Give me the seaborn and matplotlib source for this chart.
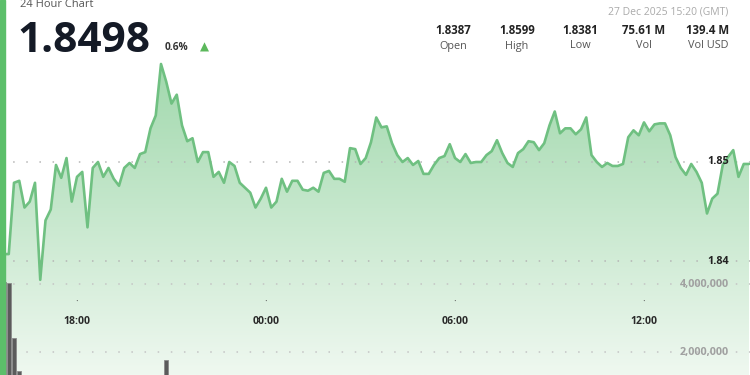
import numpy as np
import pandas as pd
import matplotlib
matplotlib.use("Agg")
import matplotlib.pyplot as plt
import matplotlib.dates as mdates
import seaborn as sns

# ---------------- data ----------------
start_time = "2025-12-26 15:40"
interval = "10min"
prices = [
    1.8407, 1.8407, 1.8479, 1.8481, 1.8454, 1.8460, 1.8479, 1.8381, 1.8441, 1.8452,
    1.8497, 1.8484, 1.8504, 1.8460, 1.8485, 1.8490, 1.8434, 1.8494, 1.8500, 1.8485,
    1.8494, 1.8483, 1.8476, 1.8494, 1.8499, 1.8494, 1.8508, 1.8510, 1.8534, 1.8547,
    1.8599, 1.8581, 1.8559, 1.8568, 1.8537, 1.8521, 1.8524,
    1.8500, 1.8510, 1.8510, 1.8485, 1.8490, 1.8479, 1.8500, 1.8496, 1.8479, 1.8474,
    1.8469, 1.8454, 1.8463, 1.8474, 1.8454, 1.8460, 1.8483, 1.8470, 1.8481, 1.8481,
    1.8472, 1.8471, 1.8474, 1.8470, 1.8489, 1.8491, 1.8483, 1.8483, 1.8480, 1.8514,
    1.8513, 1.8498, 1.8504, 1.8520,
    1.8545, 1.8535, 1.8536, 1.8519, 1.8507, 1.8500, 1.8504, 1.8497, 1.8501, 1.8488,
    1.8488, 1.8497, 1.8504, 1.8506, 1.8518, 1.8504, 1.8500, 1.8508, 1.8499, 1.8500,
    1.8500, 1.8507, 1.8511, 1.8522, 1.8509, 1.8499, 1.8495, 1.8509, 1.8513, 1.8521,
    1.8520, 1.8512, 1.8519, 1.8537, 1.8551,
    1.8529, 1.8534, 1.8534, 1.8528, 1.8533, 1.8545, 1.8507, 1.8500, 1.8495, 1.8499,
    1.8496, 1.8496, 1.8498, 1.8525, 1.8532, 1.8527, 1.8540, 1.8531, 1.8538, 1.8539,
    1.8539, 1.8527, 1.8505, 1.8494, 1.8487, 1.8498, 1.8490, 1.8479, 1.8448, 1.8463,
    1.8468, 1.8497, 1.8505, 1.8512, 1.8485, 1.8498, 1.8498,
]
# visible volume bars (index into the price series, volume in units)
volume_index = [0, 1, 2, 3, 31]
volume_values = [4.05e6, 4.03e6, 2.4e6, 1.45e6, 1.76e6]

price_ticks = [1.84, 1.85]
price_tick_labels = ["1.84", "1.85"]
volume_ticks = [2e6, 4e6]
volume_tick_labels = ["2,000,000", "4,000,000"]
time_ticks = ["2025-12-26 18:00", "2025-12-27 00:00", "2025-12-27 06:00", "2025-12-27 12:00"]
time_tick_labels = ["18:00", "00:00", "06:00", "12:00"]

header_title = "24 Hour Chart"
last_price = "1.8498"
change_pct = "0.6%"
timestamp = "27 Dec 2025 15:20 (GMT)"
stat_values = ["1.8387", "1.8599", "1.8381", "75.61 M", "139.4 M"]
stat_labels = ["Open", "High", "Low", "Vol", "Vol USD"]

# ---------------- styling ----------------
sns.set_style("white")
plt.rcParams["font.family"] = ["Open Sans", "DejaVu Sans"]

W, H = 750, 375
fig = plt.figure(figsize=(W / 100, H / 100), dpi=100)
ax = fig.add_axes([0, 0, 1, 1])

times = pd.date_range(start_time, periods=len(prices), freq=interval)
df = pd.DataFrame({"time": times, "price": prices})

# axis ranges (pixel layout of the reference)
px_per_hour = 31.5
x_left = pd.Timestamp("2025-12-26 18:00") - pd.Timedelta(hours=77 / px_per_hour)
x_right = x_left + pd.Timedelta(hours=W / px_per_hour)
p_per_px = 0.01 / 99
y_top = 1.85 + 162 * p_per_px
y_bot = 1.85 - (H - 162) * p_per_px

# gradient fill under the line
poly = ax.fill_between(df["time"], df["price"], y_bot - 0.01, color="none", lw=0)
top_c = np.array([0xa0, 0xd8, 0xac]) / 255
bot_c = np.array([0xef, 0xf8, 0xf0]) / 255
n = 256
frac = np.linspace(0, 1, n)[:, None]
grad = (top_c[None, :] * (1 - frac) + bot_c[None, :] * frac)[:, None, :]
im = ax.imshow(grad, aspect="auto",
               extent=[mdates.date2num(x_left), mdates.date2num(x_right),
                       y_bot, 1.85 + (162 - 60) * p_per_px],
               origin="upper", zorder=1)
im.set_clip_path(poly.get_paths()[0], transform=ax.transData)
ax.set_xlim(x_left, x_right)
ax.set_ylim(y_bot, y_top)

sns.lineplot(data=df, x="time", y="price", ax=ax, color="#6fc081", lw=1.9, zorder=3)

# dotted price grid lines + labels
for v, lab in zip(price_ticks, price_tick_labels):
    ax.axhline(v, color="#b5b5b5", lw=1.1, ls=(0, (1, 7.6)), zorder=2)
    ax.text(729 / W, v, lab, transform=ax.get_yaxis_transform(), ha="right", va="center",
            fontsize=7.8, fontweight="bold", color="#222222", zorder=5)

ax.set_xlim(x_left, x_right)
ax.set_ylim(y_bot, y_top)
ax.set_xlabel("")
ax.set_ylabel("")
ax.set_xticks([])
ax.set_yticks([])
for s in ax.spines.values():
    s.set_visible(False)

# volume axis
ax2 = ax.twinx()
vpp = 1e6 / 34
ax2.set_ylim(4e6 - (H - 284) * vpp, 4e6 + 284 * vpp)
vol_times = times[volume_index]
ax2.bar(vol_times, volume_values, width=pd.Timedelta(minutes=8.5), color="#5b5b5b",
        edgecolor="#8a8a8a", lw=0.6, zorder=2)
for v, lab in zip(volume_ticks, volume_tick_labels):
    ax2.axhline(v, color="#c4c4c4", lw=1.1, ls=(0, (1, 7.6)), zorder=1)
    ax2.text(729 / W, v, lab, transform=ax2.get_yaxis_transform(), ha="right", va="center",
             fontsize=7.8, fontweight="bold", color="#a0a0a0", zorder=5)
ax2.set_xlim(x_left, x_right)
ax2.set_yticks([])
ax2.set_xticks([])
ax2.set_ylabel("")
for s in ax2.spines.values():
    s.set_visible(False)

# time ticks
for t, lab in zip(time_ticks, time_tick_labels):
    tt = pd.Timestamp(t)
    ax2.text(tt, 1 - 302 / H, "·", transform=ax2.get_xaxis_transform(), ha="center",
             va="center", fontsize=7, color="#555555")
    ax2.text(tt, 1 - 321 / H, lab, transform=ax2.get_xaxis_transform(), ha="center",
             va="center", fontsize=7.6, fontweight="bold", color="#2a2a2a")

# header
def fx(x):
    return x / W

def fy(y):
    return 1 - y / H

fig.text(fx(20), fy(7), header_title, fontsize=8, color="#555555", va="baseline")
fig.text(fx(17), fy(52), last_price, fontsize=30.5, fontweight="bold", color="#141a26", va="baseline")
fig.text(fx(165), fy(47), change_pct, fontsize=7.3, fontweight="bold", color="#333333", va="center")
fig.text(fx(204), fy(47), "▲", fontsize=8.5, color="#5cb85c", va="center", ha="center",
         family=["DejaVu Sans"])
fig.text(fx(728), fy(12), timestamp, fontsize=7.5, color="#aaaaaa", va="center", ha="right")
stat_x = [453, 517, 580, 644, 708]
for x, v, lab in zip(stat_x, stat_values, stat_labels):
    fig.text(fx(x), fy(31), v, fontsize=8.3, fontweight="bold", color="#222222", ha="center", va="center")
    fig.text(fx(x), fy(46), lab, fontsize=7.8, color="#555555", ha="center", va="center")

# left accent bar
fig.patches.append(plt.Rectangle((0, 0), 5 / W, 1, transform=fig.transFigure,
                                 color="#5cbf6a", zorder=10))

fig.savefig("out.png", dpi=100)
